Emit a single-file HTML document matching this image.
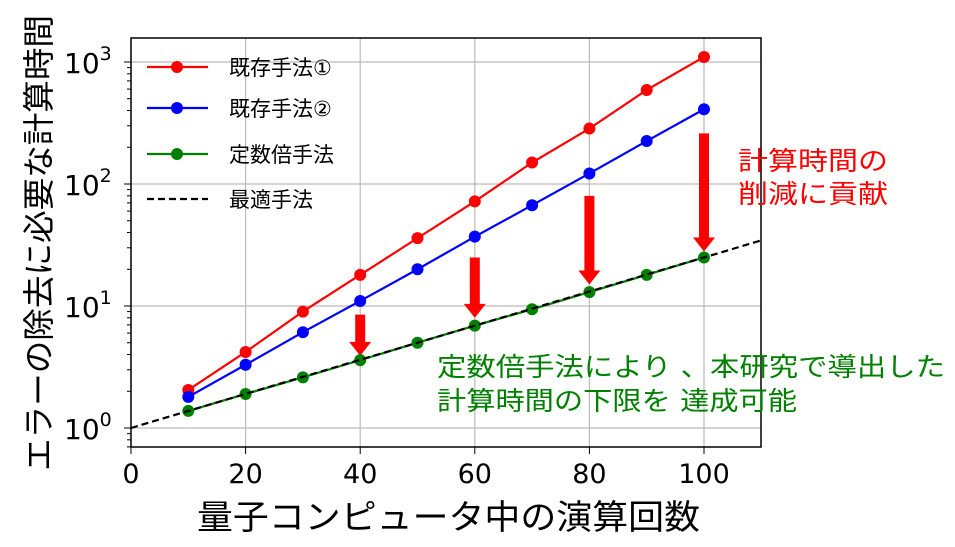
<!DOCTYPE html>
<html><head><meta charset="utf-8"><style>
body{margin:0;background:#fff}
text{font-family:"DejaVu Sans","Noto Sans CJK JP",sans-serif}
</style></head><body>
<svg id="chart" width="955" height="542" xmlns="http://www.w3.org/2000/svg"></svg>
<script>
const xs=[10,20,30,40,50,60,70,80,90,100];
const red=[2.05,4.2,9,18,36,72,150,285,590,1100];
const blue=[1.8,3.3,6.1,11,20,37,67,122,225,410];
const green=[1.38,1.9,2.6,3.6,5,6.9,9.4,13,18,25];
const optX=[0,110];
const optY=[1,34.5];
const xTicks=[0,20,40,60,80,100];
const yTicks=[0,1,2,3];
const arrowX=[40,60,80,100];
const arrowTop=[8.5,25,80,260];
const arrowBot=[3.9,8,15,28];
const NS='http://www.w3.org/2000/svg';
const svg=document.getElementById('chart');
const L=131,R=761,T=38,B=447;
const X=v=>L+v*(704-131)/100;
const Y=v=>428-Math.log10(v)*122;
function el(t,a,p){const e=document.createElementNS(NS,t);for(const k in a)e.setAttribute(k,a[k]);(p||svg).appendChild(e);return e;}
xTicks.forEach(t=>{if(t>0){const g=el('line',{x1:X(t),x2:X(t),y1:T,y2:B,stroke:'#bbb','stroke-width':1.2});

}});
yTicks.forEach(t=>{const g=el('line',{x1:L,x2:R,y1:Y(Math.pow(10,t)),y2:Y(Math.pow(10,t)),stroke:'#bbb','stroke-width':1.2});

});
for(let d=-1;d<4;d++)for(let m=2;m<10;m++){const v=m*Math.pow(10,d);const y=Y(v);if(y>T&&y<B){const t=el('line',{x1:L-4,x2:L,y1:y,y2:y,stroke:'#000','stroke-width':1});

}}
xTicks.forEach(t=>{el('line',{x1:X(t),x2:X(t),y1:B,y2:B+7,stroke:'#000'});
const tx=el('text',{x:X(t),y:B+36,'font-size':27,'text-anchor':'middle'});tx.textContent=t;

});
yTicks.forEach(t=>{const y=Y(Math.pow(10,t));el('line',{x1:L-7,x2:L,y1:y,y2:y,stroke:'#000'});
const tx=el('text',{x:64,y:y+11,'font-size':28});tx.innerHTML='10<tspan dy="-13" font-size="19">'+t+'</tspan>';

});
arrowX.forEach((a,i)=>{const x=X(a),y1=Y(arrowTop[i]),y2=Y(arrowBot[i]);
const p=el('polygon',{points:`${x-5},${y1} ${x+5},${y1} ${x+5},${y2-14} ${x+11},${y2-14} ${x},${y2} ${x-11},${y2-14} ${x-5},${y2-14}`,fill:'#f00'});

});
function series(vals,col,name){const pts=xs.map((x,i)=>X(x)+','+Y(vals[i])).join(' ');
const g=el('g',{});
el('polyline',{points:pts,fill:'none',stroke:col,'stroke-width':2.2},g);
xs.forEach((x,i)=>{const c=el('circle',{cx:X(x),cy:Y(vals[i]),r:6,fill:col},g);

});}
series(red,'#f00','series-existing-1');
series(blue,'#00f','series-existing-2');
series(green,'#008000','series-constant-factor');
const opt=el('line',{x1:X(optX[0]),y1:Y(optY[0]),x2:X(optX[1]),y2:Y(optY[1]),stroke:'#000','stroke-width':2.2,'stroke-dasharray':'7,4'});


const fr=el('rect',{x:L,y:T,width:R-L,height:B-T,fill:'none',stroke:'#000','stroke-width':1.5});


const leg=[['既存手法①','#f00',true],['既存手法②','#00f',true],['定数倍手法','#008000',true],['最適手法','#000',false]];
const ly=[67,108,154,199];
leg.forEach((l,i)=>{const g=el('g',{});
el('line',{x1:147,x2:208,y1:ly[i],y2:ly[i],stroke:l[1],'stroke-width':2.2,'stroke-dasharray':l[2]?'none':'7,4'},g);
if(l[2])el('circle',{cx:177,cy:ly[i],r:6,fill:l[1]},g);
const t=el('text',{x:229,y:ly[i]+8,'font-size':21},g);t.textContent=l[0];});
function txt(x,y,s,c,size,name,w){const t=el('text',{x:x,y:y,'font-size':size,fill:c});t.textContent=s;
if(w){t.setAttribute('textLength',w);t.setAttribute('lengthAdjust','spacingAndGlyphs');}
return t;}
txt(738,170,'計算時間の','#f00',26,'annotation-reduction',150);
txt(738,203,'削減に貢献','#f00',26,'annotation-reduction',150);
txt(437,376,'定数倍手法により 、本研究で導出した','#008000',26,'annotation-lower-bound',508);
txt(437,410,'計算時間の下限を 達成可能','#008000',26,'annotation-lower-bound',360);
const xl=txt(197,529,'量子コンピュータ中の演算回数','#000',34,'x-axis-title',503);
const yl=txt(0,0,'エラーの除去に必要な計算時間','#000',32,'y-axis-title',456);yl.setAttribute('text-anchor','middle');
yl.setAttribute('transform','translate(50,243) rotate(-90)');
</script>
</body></html>
